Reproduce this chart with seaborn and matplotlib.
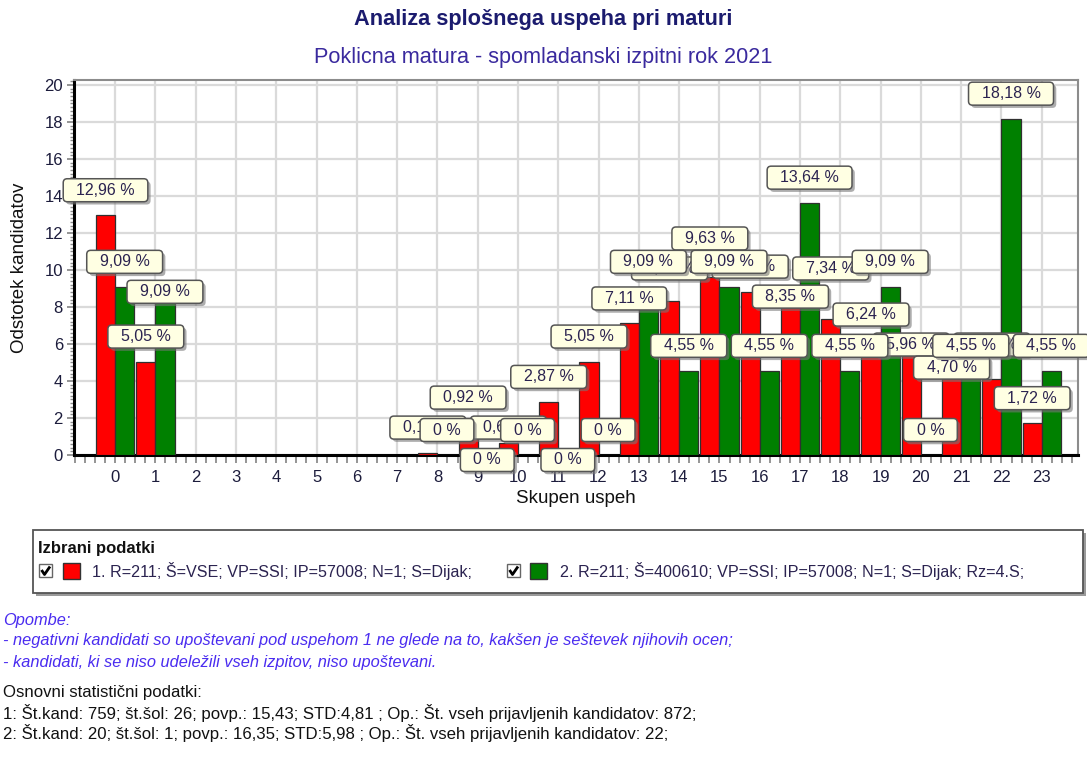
import numpy as np
import pandas as pd
import matplotlib
matplotlib.use("Agg")
import matplotlib.pyplot as plt
import matplotlib.patheffects as pe
from matplotlib.patches import Rectangle
from matplotlib.lines import Line2D
from matplotlib.ticker import MultipleLocator
import seaborn as sns

nan = np.nan

# ---------------- data ----------------
categories = list(range(24))
series_labels = [
    "1. R=211; Š=VSE; VP=SSI; IP=57008; N=1; S=Dijak;",
    "2. R=211; Š=400610; VP=SSI; IP=57008; N=1; S=Dijak; Rz=4.S;",
]
series1_values = [12.96, 5.05, nan, nan, nan, nan, nan, nan, 0.13, 0.92, 0.66, 2.87,
                  5.05, 7.11, 8.35, 9.63, 8.83, 8.35, 7.34, 6.24, 5.96, 4.70, 4.13, 1.72]
series2_values = [9.09, 9.09, nan, nan, nan, nan, nan, nan, 0.0, 0.0, 0.0, 0.0,
                  0.0, 9.09, 4.55, 9.09, 4.55, 13.64, 4.55, 9.09, 0.0, 4.55, 18.18, 4.55]
series_colors = ["#ff0000", "#008000"]
y_ticks = list(range(0, 21, 2))

title = "Analiza splošnega uspeha pri maturi"
subtitle = "Poklicna matura - spomladanski izpitni rok 2021"
ylabel = "Odstotek kandidatov"
xlabel = "Skupen uspeh"
legend_title = "Izbrani podatki"
notes_title = "Opombe:"
notes = [
    "- negativni kandidati so upoštevani pod uspehom 1 ne glede na to, kakšen je seštevek njihovih ocen;",
    "- kandidati, ki se niso udeležili vseh izpitov, niso upoštevani.",
]
stats_title = "Osnovni statistični podatki:"
stats = [
    "1: Št.kand: 759; št.šol: 26; povp.: 15,43; STD:4,81 ; Op.: Št. vseh prijavljenih kandidatov: 872;",
    "2: Št.kand: 20; št.šol: 1; povp.: 16,35; STD:5,98 ; Op.: Št. vseh prijavljenih kandidatov: 22;",
]

rows = []
for name, vals in zip(series_labels, [series1_values, series2_values]):
    for c, v in zip(categories, vals):
        if not np.isnan(v):
            rows.append({"cat": c, "val": v, "series": name})
df = pd.DataFrame(rows)

# ---------------- style ----------------
sns.set_theme(style="white")
plt.rcParams["font.family"] = ["Liberation Sans", "DejaVu Sans"]

W, H = 1087, 769
fig = plt.figure(figsize=(W / 100, H / 100), dpi=100)
fig.patch.set_facecolor("white")
ax = fig.add_axes([74 / W, 1 - 455 / H, (1078 - 74) / W, (455 - 80) / H])

sns.barplot(data=df, x="cat", y="val", hue="series", order=categories,
            hue_order=series_labels, palette=dict(zip(series_labels, series_colors)),
            width=0.95, gap=0, errorbar=None, saturation=1,
            edgecolor="#303030", linewidth=0.9, legend=False, ax=ax, zorder=3)

ax.set_xlim(-1.02, 23.9)
ax.set_ylim(0, 20.27)
ax.set_yticks(y_ticks)
ax.yaxis.set_minor_locator(MultipleLocator(0.2))
ax.xaxis.set_minor_locator(MultipleLocator(0.25))
ax.grid(True, which="major", color="#dadada", lw=1.6)
ax.set_axisbelow(True)
ax.set_facecolor("white")

for s in ["left", "bottom"]:
    ax.spines[s].set_color("black")
    ax.spines[s].set_linewidth(2.2)
for s in ["top", "right"]:
    ax.spines[s].set_color("#8c8c8c")
    ax.spines[s].set_linewidth(1.5)

tick_col = "#1c1c3c"
ax.tick_params(axis="x", which="major", length=6, width=1.3, color="#8c8c8c",
               labelsize=12, labelcolor=tick_col, pad=5, bottom=True, direction="out")
ax.tick_params(axis="x", which="minor", length=6, width=1.3, color="#8c8c8c",
               bottom=True, direction="out")
ax.tick_params(axis="y", which="major", length=5, width=1.3, color="#8c8c8c",
               labelsize=12, labelcolor=tick_col, pad=3, left=True, direction="out")
ax.tick_params(axis="y", which="minor", length=3, width=1.0, color="#8c8c8c",
               left=True, direction="out")

ax.set_xlabel(xlabel, fontsize=13.5, color="#111111")
ax.set_ylabel(ylabel, fontsize=13.5, color="#111111")
ax.xaxis.set_label_coords(0.5, -0.093)
ax.yaxis.set_label_coords(-0.046, 0.5)

fig.text(0.5, 1 - 20 / H, title, ha="center", va="center", fontsize=15.7,
         fontweight="bold", color="#1b1b6e")
fig.text(0.5, 1 - 57 / H, subtitle, ha="center", va="center", fontsize=15.6,
         color="#3a2a9e")


# ---------------- value marks (labels) ----------------
def fmt(v):
    s = "0" if v == 0 else f"{v:.2f}".replace(".", ",")
    return "  " + s + " %  "


fig.canvas.draw()
renderer = fig.canvas.get_renderer()
inv = ax.transData.inverted()
OFF, GAP = 25.0, 7.0

for container in ax.containers:
    items = []
    for p in container.patches:
        h = p.get_height()
        if np.isnan(h):
            continue
        cx = p.get_x() + p.get_width() / 2
        t = ax.text(cx, h, fmt(h), ha="center", va="center", fontsize=11.5,
                    color="#2b2350", zorder=6, clip_on=False,
                    bbox=dict(boxstyle="round,pad=0.25,rounding_size=0.25",
                              fc="#ffffe3", ec="#555555", lw=1.1))
        t.get_bbox_patch().set_path_effects(
            [pe.SimplePatchShadow(offset=(2, -2), shadow_rgbFace="#777777", alpha=0.6),
             pe.Normal()])
        items.append((cx, h, t))
    fig.canvas.draw()
    placed = []
    for cx, h, t in sorted(items, key=lambda it: it[0]):
        bb = t.get_bbox_patch().get_window_extent(renderer)
        w, hh = bb.width, bb.height
        dx, dtop = ax.transData.transform((cx, h))
        d = dtop + OFF
        cands = [d]
        for (x0, x1, y0, y1) in placed:
            cands += [y1 + GAP + hh / 2, y0 - GAP - hh / 2]

        def ok(c):
            for (x0, x1, y0, y1) in placed:
                if dx - w / 2 < x1 and dx + w / 2 > x0 and c - hh / 2 < y1 and c + hh / 2 > y0:
                    return False
            return True

        valid = [c for c in cands if ok(c)]
        c = min(valid, key=lambda c: (abs(c - d), c))
        placed.append((dx - w / 2, dx + w / 2, c - hh / 2, c + hh / 2))
        t.set_position(inv.transform((dx, c)))

# ---------------- legend panel and notes ----------------
lay = fig.add_axes([0, 0, 1, 1], zorder=-1)
lay.set_xlim(0, W)
lay.set_ylim(H, 0)
lay.axis("off")
lay.patch.set_alpha(0)

lay.add_patch(Rectangle((36, 533), 1050, 63, fc="#9a9a9a", ec="none"))
lay.add_patch(Rectangle((33, 530), 1050, 63, fc="white", ec="#555555", lw=1.3))
lay.text(38, 548, legend_title, fontsize=12, fontweight="bold", color="#111111",
         va="center", ha="left")

legend_x = [(39, 63, 92), (507, 530, 560)]
for (cbx, sqx, tx), name, col in zip(legend_x, series_labels, series_colors):
    lay.add_patch(Rectangle((cbx, 564), 13, 13, fc="white", ec="#666666", lw=1.0))
    lay.add_line(Line2D([cbx + 2.5, cbx + 5.5, cbx + 11], [570, 574.5, 566.5],
                        color="black", lw=2.0, solid_capstyle="butt"))
    lay.add_patch(Rectangle((sqx, 563), 17, 16, fc=col, ec="#333333", lw=1.0))
    lay.text(tx, 571.5, name, fontsize=11.6, color="#2b2350", va="center", ha="left")

note_col = "#4a2cf0"
lay.text(3, 620, notes_title, fontsize=11.75, style="italic", color=note_col, va="center")
for i, line in enumerate(notes):
    lay.text(3, 641 + i * 21.5, line, fontsize=11.75, style="italic", color=note_col,
             va="center")
lay.text(3, 692, stats_title, fontsize=12.1, color="#111111", va="center")
for i, line in enumerate(stats):
    lay.text(3, 713 + i * 20.5, line, fontsize=12.1, color="#111111", va="center")

fig.savefig("out.png", dpi=100, facecolor="white")
